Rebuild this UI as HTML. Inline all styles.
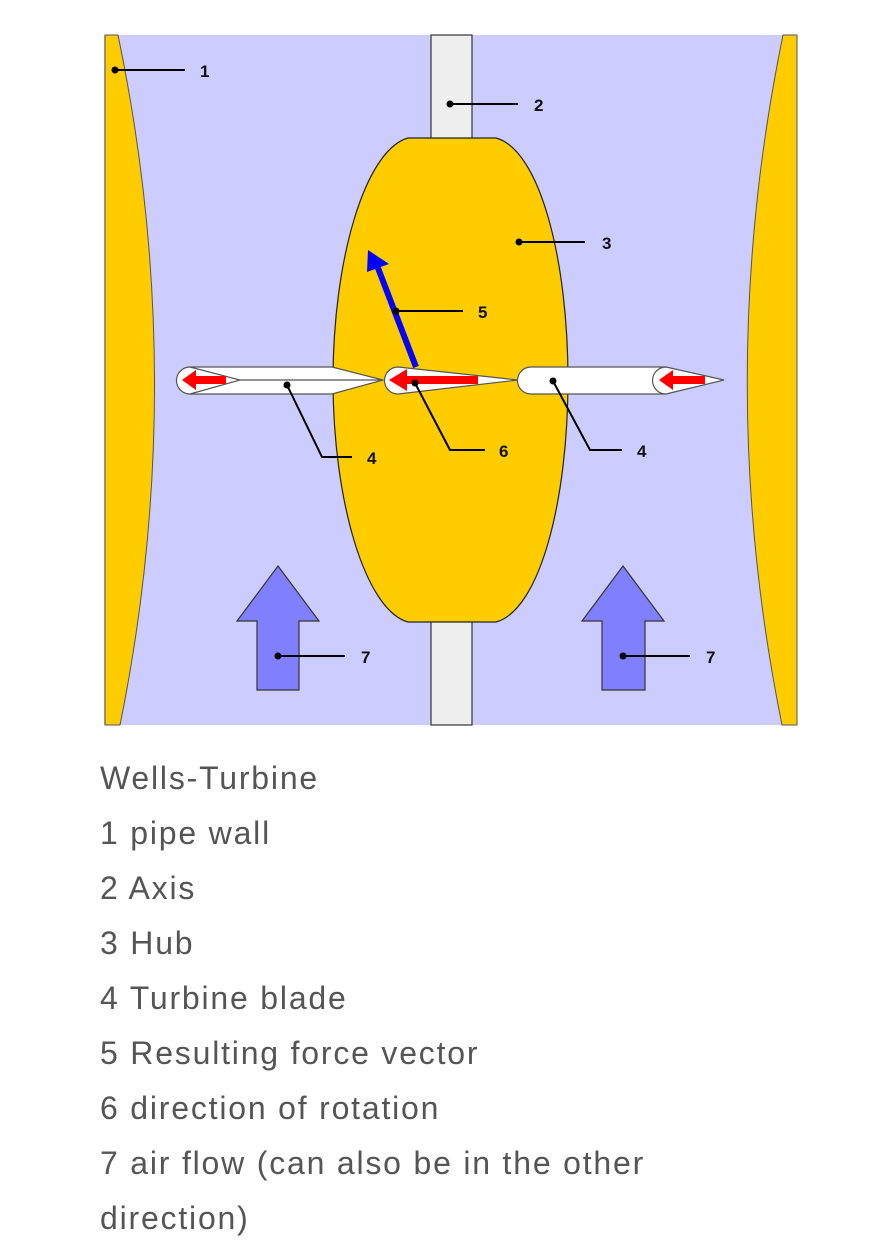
<!DOCTYPE html>
<html><head><meta charset="utf-8"><style>
html,body{margin:0;padding:0;background:#fff;width:894px;height:1252px;overflow:hidden}
svg{position:absolute;left:0;top:0}
.cap{position:absolute;left:100px;top:751px;font-family:"Liberation Sans",sans-serif;font-size:32px;line-height:55px;color:#555;width:700px;letter-spacing:1.8px}
</style></head><body>
<svg width="894" height="740" viewBox="0 0 894 740">
<rect x="104" y="35" width="693" height="690" fill="#ccccff"/>
<rect x="431" y="35" width="41" height="690" fill="#eeeeee" stroke="#333" stroke-width="1.2"/>
<path d="M105,35 L118,35 Q190,380 120,725 L105,725 Z" fill="#ffcc00" stroke="#555" stroke-width="1"/>
<path d="M797,35 L783,35 Q712,380 782,725 L797,725 Z" fill="#ffcc00" stroke="#555" stroke-width="1"/>
<path d="M408,138 L496,138 C540,150 568,260 568,380 C568,500 540,610 496,622 L408,622 C365,610 333,500 333,380 C333,260 365,150 408,138 Z" fill="#ffcc00" stroke="#222" stroke-width="1.2"/>
<path d="M190,367 L332,367 L383,380 L332,394 L190,394 A13,13 0 0 1 190,367 Z" fill="#fff" stroke="#555" stroke-width="1.2"/>
<path d="M190,367 L240,380 L190,394 M240,380 L383,380" fill="none" stroke="#555" stroke-width="1.2"/>
<path d="M398,367 L518,380 L398,394 A13.5,13.5 0 0 1 398,367 Z" fill="#fff" stroke="#555" stroke-width="1.2"/>
<path d="M531,367 L666,367 L724,380 L666,394 L531,394 A13.5,13.5 0 0 1 531,367 Z" fill="#fff" stroke="#555" stroke-width="1.2"/>
<path d="M666,367 A13.5,13.5 0 0 0 666,394" fill="none" stroke="#555" stroke-width="1.2"/>
<g fill="#ff0000">
<path d="M182,380 L196,370 L196,376 L226,376 L226,384 L196,384 L196,390 Z"/>
<path d="M389,380 L407,369 L407,376 L478,376 L478,384 L407,384 L407,391 Z"/>
<path d="M659,380 L673,370 L673,376 L705,376 L705,384 L673,384 L673,390 Z"/>
</g>
<line x1="416" y1="367" x2="378" y2="268" stroke="#0000ff" stroke-width="6"/>
<path d="M368,250 L389,264 L367,272 Z" fill="#0000ff"/>
<path d="M278,566 L319,621 L299,621 L299,690 L257,690 L257,621 L237,621 Z" fill="#8080ff" stroke="#333" stroke-width="1.2"/>
<path d="M623,566 L664,621 L645,621 L645,690 L602,690 L602,621 L582,621 Z" fill="#8080ff" stroke="#333" stroke-width="1.2"/>
<g stroke="#000" stroke-width="2" fill="none">
<path d="M115,70 H185"/><path d="M450,104 H518"/><path d="M519,242 H585"/>
<path d="M396,311 H463"/>
<path d="M287,385 L322,457 H352"/><path d="M415,383 L450,450 H485"/><path d="M553,381 L590,450 H622"/>
<path d="M278,656 H345"/><path d="M623,656 H690"/>
</g>
<g fill="#000">
<circle cx="115" cy="70" r="3.5"/><circle cx="450" cy="104" r="3.5"/><circle cx="519" cy="242" r="3.5"/><circle cx="396" cy="311" r="3.5"/>
<circle cx="287" cy="385" r="3.5"/><circle cx="415" cy="383" r="3.5"/><circle cx="553" cy="381" r="3.5"/><circle cx="278" cy="656" r="3.5"/><circle cx="623" cy="656" r="3.5"/>
</g>
<g font-family="Liberation Sans,sans-serif" font-weight="bold" font-size="17" fill="#111">
<text x="200" y="77">1</text><text x="534" y="111">2</text><text x="602" y="249">3</text><text x="478" y="318">5</text>
<text x="367" y="464">4</text><text x="499" y="457">6</text><text x="637" y="457">4</text>
<text x="361" y="663">7</text><text x="706" y="663">7</text>
</g>
</svg>
<div class="cap">Wells-Turbine<br>1 pipe wall<br>2 Axis<br>3 Hub<br>4 Turbine blade<br>5 Resulting force vector<br>6 direction of rotation<br>7 air flow (can also be in the other<br>direction)</div>
</body></html>
